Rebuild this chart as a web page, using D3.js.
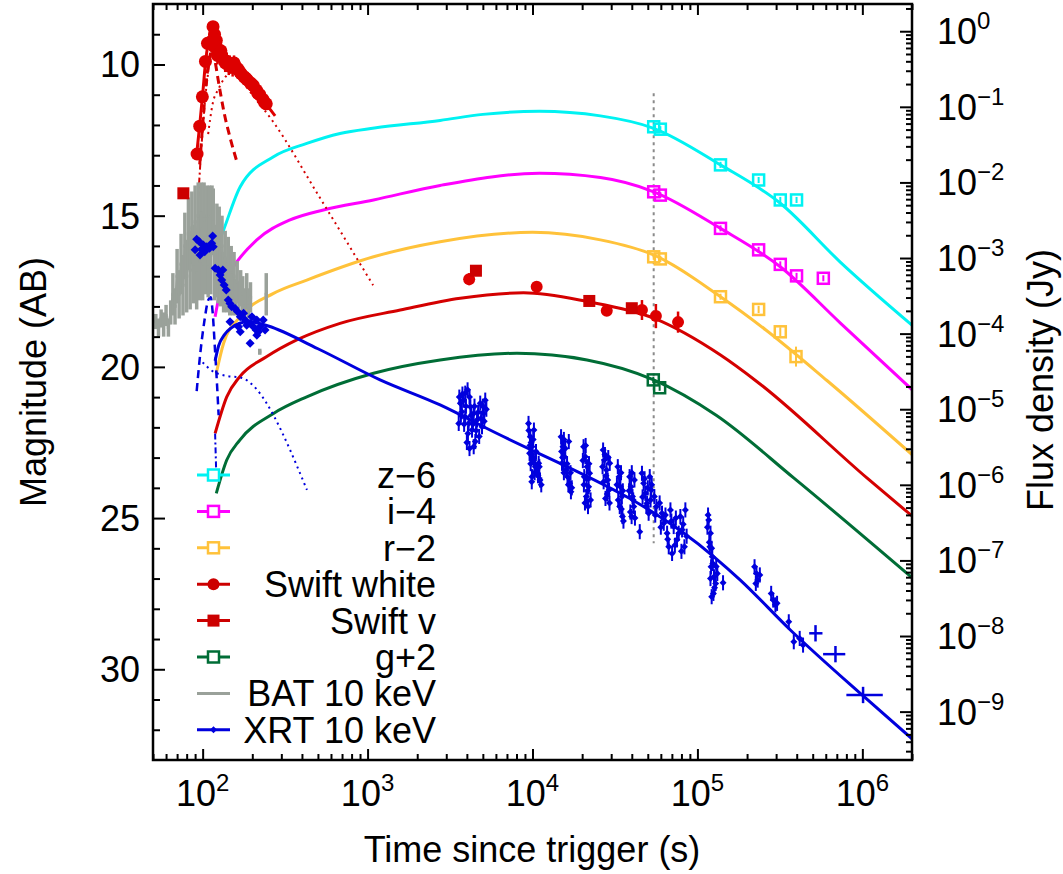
<!DOCTYPE html>
<html><head><meta charset="utf-8">
<script src="https://cdn.jsdelivr.net/npm/d3@7"></script>
<style>
body{margin:0;background:#fff}
svg{display:block}
text{font-family:"Liberation Sans",Arial,Helvetica,sans-serif;fill:#000}
</style>
</head><body>
<svg id="chart" width="1063" height="874"></svg>
<script>
// ---------- model light curves (time [s], AB magnitude) ----------
const cyanT = [121,125,134,169,269,428,681,1100,2754,5000,1.1e4,2.58e4,5.43e4,1.38e5,3.18e5,7.4e5,2e6];
const cyanM = [16.2,15.9,15.47,14.04,13.05,12.61,12.28,12.1,11.85,11.65,11.55,11.70,12.11,13.32,14.59,16.55,18.62];
const magT  = [119,125,134,154,213,339,540,1087,2754,1.1e4,2.58e4,5.43e4,1.38e5,3.18e5,7.36e5,2e6];
const magM  = [18.34,17.75,17.3,16.69,15.80,15.14,14.81,14.48,14.0,13.6,13.74,14.21,15.42,16.69,18.55,20.75];
const oraT  = [121,134,169,269,428,1087,2754,1e4,2.58e4,5.43e4,1.38e5,2.6e5,6.1e5,2e6];
const oraM  = [20.21,19.22,18.34,17.57,17.13,16.36,15.86,15.55,15.80,16.30,17.68,18.78,20.45,22.9];
const redT  = [119,140,168,245,372,681,1578,3648,8830,2.14e4,5.43e4,1.38e5,2.3e5,1.07e6,2e6];
const redM  = [22.2,20.99,20.32,19.66,19.11,18.56,18.12,17.73,17.55,17.84,18.39,19.61,20.49,23.68,24.93];
const grnT  = [121,140,168,269,428,1087,2754,8050,2.14e4,5.43e4,1.3e5,3.85e5,2e6];
const grnM  = [24.18,23.08,22.42,21.54,20.99,20.21,19.77,19.55,19.77,20.43,21.6,23.68,26.97];
const xmodT = [119,125,135,150,170,190,215,250,500,1191,2754,5050,1.26e5,1.82e5,3.66e5,1.02e6,2e6];
const xmodM = [19.8,19.3,18.95,18.7,18.55,18.5,18.55,18.65,19.4,20.43,21.26,21.98,26.28,27.05,28.7,30.9,32.3];

// early-time model components
const wSumT  = [92,96,100,104,108,112,115,118,122,128,134,142,152,165,175,190,210,230,250,275];
const wSumM  = [12.96,12.0,11.0,9.95,9.3,8.95,8.8,9.1,9.45,9.6,9.5,9.8,10.05,10.05,10.15,10.5,10.85,11.15,11.4,11.7];
const wPulseT = [96,100,105,110,114,118,125,135,148,161];
const wPulseM = [13.3,12.0,10.6,9.8,9.5,9.8,10.6,11.6,12.5,13.2];
const wRiseT = [94,98,104,110,113];
const wRiseM = [14.4,12.8,11.0,9.9,9.6];
const wRevT  = [108,115,125,138,150,170,200,268,500,1080];
const wRevM  = [12.3,11.3,10.8,10.4,10.25,10.5,11.0,11.9,14.3,17.3];
const xPulseT = [92,97,103,108,112,115,119,122,125];
const xPulseM = [20.8,19.5,18.4,17.8,17.7,18.2,19.5,20.5,21.6];
const xDecayT = [119,120,121];
const xDecayM = [22.2,22.9,23.6];
const xDotT  = [100,112,140,169,429];
const xDotM  = [19.85,20.1,20.3,20.35,24.07];

// ---------- photometry ----------
const zT = [5.43e4,5.96e4,1.38e5,2.35e5,3.18e5,3.99e5];
const zM = [12.06,12.14,13.32,13.82,14.48,14.48];
const iT = [5.43e4,5.96e4,1.38e5,2.35e5,3.18e5,3.99e5,5.8e5];
const iM = [14.21,14.32,15.42,16.13,16.61,16.99,17.07];
const rT = [5.43e4,5.96e4,1.38e5,2.35e5,3.18e5,3.96e5];
const rM = [16.36,16.43,17.68,18.10,18.84,19.66];
const rE = [0.1,0.1,0.1,0.12,0.15,0.33];
const gT = [5.4e4,5.9e4];
const gM = [20.43,20.69];

const whiteT = [92.5,96,99.6,104,107,112,115.6,118,121,124,127,131,135,140,146,152,158,164,171,178,186,194,203,212,222,232,243,
                117,123,129,137,144,155,168,182,198,216,237,
                4130,1.06e4,2.82e4,4.61e4,5.6e4,7.63e4];
const whiteM = [12.96,12.04,11.07,9.9,9.3,9.25,8.75,9.0,9.2,9.5,9.65,9.75,9.85,9.9,10.0,10.1,10.05,10.15,10.3,10.4,10.5,10.6,10.7,10.85,11.0,11.15,11.3,
                9.4,9.7,9.55,9.95,10.05,9.95,10.25,10.45,10.65,10.95,11.25,
                17.10,17.35,18.14,18.12,18.32,18.52];
const whiteE = [0.1,0.1,0.1,0.1,0.1,0.1,0.1,0.1,0.15,0.2,0.2,0.2,0.25,0.3,0.3,0.3,0.3,0.2,0.15,0.15,0.1,0.1,0.1,0.1,0.1,0.1,0.1,
                0.15,0.3,0.35,0.3,0.3,0.25,0.15,0.1,0.1,0.1,0.1,
                0.2,0.1,0.15,0.33,0.4,0.35];
const vT = [76.4,4540,2.21e4,4.0e4];
const vM = [14.26,16.82,17.82,18.06];

// BAT 10 keV
const batT = [52,54,56,58,60,62,64,66,68,70,72,74,76,78,80,82,84,86,88,90,92,94,96,98,100,102,104,106,108,110,112,114,116,118,120,122,124,126,128,131,134,137,140,143,146,149,152,155,158,162,166,170,175,180,185,190,195,222,243];
const batM = [18.5,18.7,18.4,18.6,18.3,18.7,18.2,17.6,18.0,17.0,17.6,16.6,17.3,16.0,17.0,15.6,16.8,15.4,16.6,15.2,16.9,15.0,16.5,14.9,16.6,15.0,16.4,15.0,16.6,15.0,16.3,15.0,15.2,16.7,16.5,15.6,16.8,15.7,17.0,16.0,17.2,16.4,17.3,16.6,17.5,16.8,17.6,17.0,17.7,17.2,17.8,17.4,17.6,17.9,17.5,17.9,17.7,19.5,17.6];
const batE = [0.25,0.3,0.3,0.4,0.35,0.3,0.4,0.7,0.6,0.9,0.8,1.0,1.0,1.1,1.2,1.2,1.3,1.2,1.3,1.2,1.2,1.1,1.3,1.0,1.2,1.1,1.2,1.0,1.1,1.0,1.3,1.0,1.1,1.1,1.2,1.0,1.1,1.0,1.0,1.0,1.0,0.9,0.9,0.9,0.8,0.8,0.7,0.8,0.6,0.7,0.6,0.6,0.6,0.5,0.6,0.5,0.5,0.1,0.7];

// XRT 10 keV, early steep phase
const xrtEarlyT = [92,95.5,90,101,106,96.4,110,113.5,115,103,116,98.6,119,124.5,127.5,132.5,130.6,135,139,143,146.5,150,157,162.5,169,177,181,185,194,199,203,211,213,223,233,213,194,165,169,146.5,239,218];
const xrtEarlyM = [15.78,15.86,16.13,15.97,16.03,16.30,16.08,15.91,15.67,16.19,16.03,16.11,16.74,16.80,16.96,16.80,17.13,17.29,17.46,17.79,17.90,18.01,18.06,18.17,18.34,18.23,18.45,18.62,18.56,18.34,18.67,18.78,18.45,18.67,18.45,18.95,19.22,18.67,18.84,18.51,18.78,18.84];
// XRT 10 keV, orbit-by-orbit late data
const xrtT = [
  3650,3730,3820,3910,4040,4100,4200,4300,4400,4500,4610,4820,4940,5050,5170,3570,4400,3910,
  3600,3680,3760,3850,3950,4060,4150,4250,4350,4450,4550,4680,4750,4880,5000,5100,5250,4000,4150,
  9460,9700,9930,9600,1.02e4,1.04e4,1.06e4,9930,1.09e4,1.11e4,1.02e4,9800,
  9500,9650,9850,1.0e4,1.01e4,1.03e4,1.05e4,1.08e4,1.1e4,1.13e4,9750,9900,
  1.49e4,1.53e4,1.56e4,1.51e4,1.6e4,1.63e4,1.68e4,1.66e4,1.71e4,
  1.5e4,1.52e4,1.55e4,1.58e4,1.62e4,1.65e4,1.7e4,1.73e4,1.55e4,
  2.04e4,2.09e4,2.14e4,2.06e4,2.19e4,2.12e4,2.22e4,2.17e4,
  2.02e4,2.05e4,2.1e4,2.13e4,2.16e4,2.2e4,2.25e4,2.08e4,
  2.68e4,2.73e4,2.81e4,2.86e4,2.91e4,2.77e4,2.94e4,
  2.66e4,2.7e4,2.75e4,2.84e4,2.88e4,2.93e4,2.79e4,
  3.29e4,3.35e4,3.41e4,3.48e4,3.38e4,3.51e4,
  3.25e4,3.31e4,3.44e4,3.46e4,3.53e4,3.56e4,
  3.88e4,3.96e4,4.04e4,4.11e4,3.99e4,4.15e4,4.47e4,
  3.85e4,3.92e4,4.0e4,4.08e4,4.18e4,
  4.61e4,4.72e4,4.83e4,4.95e4,5.14e4,5.24e4,5.06e4,
  4.65e4,4.78e4,4.9e4,5.0e4,5.2e4,5.28e4,
  5.48e4,5.64e4,6.1e4,6.25e4,6.55e4,6.7e4,6.86e4,7.18e4,7.52e4,7.88e4,8.07e4,8.34e4,8.45e4,7.02e4,
  5.55e4,5.9e4,6.0e4,6.4e4,6.6e4,6.95e4,7.3e4,7.4e4,7.7e4,8.2e4,8.6e4,8.0e4,
  1.17e5,1.2e5,1.19e5,1.23e5,1.21e5,1.26e5,1.29e5,1.25e5,1.32e5,1.43e5,
  1.15e5,1.18e5,1.22e5,1.24e5,1.2e5,1.27e5,1.3e5,1.22e5,1.16e5,
  2.22e5,2.28e5,2.32e5,2.39e5,2.26e5,
  2.8e5,2.88e5,2.97e5,3.04e5,
  3.58e5,3.84e5,4.17e5,4.37e5];
const xrtM = [
  21.2,21.48,21.1,21.65,20.76,21.87,21.32,22.09,21.54,22.47,21.76,21.2,21.98,21.54,21.1,21.87,22.64,20.87,
  21.0,21.6,20.9,21.9,21.3,22.2,21.0,21.6,21.9,21.3,22.1,21.5,22.3,21.7,21.3,21.8,21.4,22.5,22.7,
  21.87,22.31,22.64,22.86,23.08,23.3,23.41,23.63,23.19,23.74,22.09,22.5,
  22.1,22.6,22.9,23.0,22.4,23.5,22.8,23.6,23.3,23.9,23.2,23.8,
  22.31,22.64,22.97,23.19,23.41,23.63,23.85,22.47,24.13,
  22.8,23.0,23.5,22.7,23.2,23.9,23.5,24.0,22.4,
  22.64,22.97,23.3,23.63,23.96,24.29,23.52,24.62,
  23.1,23.9,22.6,23.7,24.1,23.2,24.4,24.5,
  22.75,23.08,23.41,23.74,24.07,24.35,23.19,
  23.3,23.8,22.9,24.2,23.0,24.5,23.6,
  23.3,23.63,23.96,24.29,24.62,24.95,
  23.9,24.4,23.5,24.7,24.1,25.1,
  23.63,23.96,24.29,24.62,24.95,23.74,25.45,
  24.1,24.8,23.5,24.4,25.0,
  23.52,23.85,24.18,24.51,23.63,24.07,24.84,
  24.3,23.7,24.6,24.0,24.4,23.9,
  24.29,24.62,24.84,25.17,25.5,25.95,24.73,25.28,25.72,24.95,25.39,25.95,24.73,26.17,
  24.9,24.5,25.3,24.9,25.7,25.1,25.9,25.0,25.5,25.2,25.6,26.1,
  25.06,25.5,25.95,26.28,26.61,26.94,27.16,27.49,26.83,27.14,
  25.3,25.8,26.0,26.5,27.0,27.3,26.6,27.6,24.9,
  26.61,26.83,27.05,26.88,27.16,
  27.49,27.71,27.87,27.82,
  28.43,29.09,28.98,29.2];
// late XRT bins with wide time ranges
const xrtBinT  = [5.2e5,6.87e5,1.01e6];
const xrtBinLo = [4.76e5,5.78e5,8.0e5];
const xrtBinHi = [5.73e5,7.88e5,1.33e6];
const xrtBinM  = [28.81,29.5,30.85];
const xrtBinE  = [0.27,0.27,0.27];

// reference epoch marker
const epochT = 5.43e4;
const epochRange = [10.95, 25.83];

// axis ticks
const magTicks = [10,15,20,25,30];
const timeDecades = [2,3,4,5,6];
const fluxDecades = [0,-1,-2,-3,-4,-5,-6,-7,-8,-9];

const legendLabels = ["z\u22126","i\u22124","r\u22122","Swift white","Swift v","g+2","BAT 10 keV","XRT 10 keV"];

// ---------- drawing ----------
const L = 153, R = 912, T = 4, B = 760;
const svg = d3.select("#chart");
svg.append("rect").attr("width",1063).attr("height",874).attr("fill","#fff");

const x = d3.scaleLog().domain([50, 2e6]).range([L, R]);
const y = d3.scaleLinear().domain([8, 33]).range([T, B]);
const fy = d3.scaleLog()
  .domain([3631*Math.pow(10,-8/2.5), 3631*Math.pow(10,-33/2.5)])
  .range([T, B]);

const C = {cyan:"#00f2f2", mag:"#ff00ff", ora:"#ffc23a", red:"#d40000", grn:"#006d36", blue:"#0000dd", bat:"#9aa19a", ep:"#8a8a8a"};

const zip = (A,Bv) => A.map((t,i)=>[t,Bv[i]]);
const line = d3.line().x(d=>x(d[0])).y(d=>y(d[1])).curve(d3.curveMonotoneX);
const lineLin = d3.line().x(d=>x(d[0])).y(d=>y(d[1]));

svg.append("clipPath").attr("id","clip").append("rect").attr("x",L).attr("y",T).attr("width",R-L).attr("height",B-T);
const g = svg.append("g").attr("clip-path","url(#clip)");

function curve(T_, M_, color, w, dash, lin){
  g.append("path").attr("d",(lin?lineLin:line)(zip(T_,M_)))
   .attr("fill","none").attr("stroke",color).attr("stroke-width",w)
   .attr("stroke-dasharray",dash||null).attr("stroke-linejoin","round");
}

// epoch marker
g.append("line").attr("x1",x(epochT)).attr("x2",x(epochT))
 .attr("y1",y(epochRange[0])).attr("y2",y(epochRange[1]))
 .attr("stroke",C.ep).attr("stroke-width",2).attr("stroke-dasharray","3,4");

// afterglow models
curve(cyanT,cyanM,C.cyan,3);
curve(magT,magM,C.mag,3);
curve(oraT,oraM,C.ora,3);
curve(redT,redM,C.red,3);
curve(grnT,grnM,C.grn,3);
curve(xmodT,xmodM,C.blue,3);

// early components
curve(wRevT,wRevM,C.red,2,"2,4");
curve(wRiseT,wRiseM,C.red,2,"6,3,2,3",true);
curve(wPulseT,wPulseM,C.red,3,"8,5");
curve(xPulseT,xPulseM,C.blue,2.5,"8,5");
curve(xDecayT,xDecayM,C.blue,2,"6,3,2,3",true);
curve(xDotT,xDotM,C.blue,2,"2,4");

// BAT
const batG = g.append("g").attr("stroke",C.bat);
batG.append("path").attr("d",lineLin(zip(batT.slice(0,57),batM.slice(0,57)))).attr("fill","none").attr("stroke-width",2.5);
batT.forEach((t,i)=>{
  const hw = 1.6;
  batG.append("line").attr("x1",x(t)).attr("x2",x(t)).attr("y1",y(batM[i]-batE[i])).attr("y2",y(batM[i]+batE[i])).attr("stroke-width",3.5);
  batG.append("line").attr("x1",x(t)-hw).attr("x2",x(t)+hw).attr("y1",y(batM[i])).attr("y2",y(batM[i])).attr("stroke-width",3);
});

// Swift white sum curve
curve(wSumT,wSumM,"#e00000",3);

// XRT points
const xg = g.append("g").attr("fill",C.blue).attr("stroke",C.blue);
const diamond = (cx,cy,s)=>`M${cx},${cy-s}L${cx+s},${cy}L${cx},${cy+s}L${cx-s},${cy}Z`;
xrtEarlyT.forEach((t,i)=>{
  const cx = x(t), cy = y(xrtEarlyM[i]);
  xg.append("path").attr("d",diamond(cx,cy,4.5)).attr("stroke","none");
});
xrtT.forEach((t,i)=>{
  const cx = x(t), cy = y(xrtM[i]);
  xg.append("line").attr("x1",cx).attr("x2",cx).attr("y1",y(xrtM[i]-0.25)).attr("y2",y(xrtM[i]+0.25)).attr("stroke-width",2);
  xg.append("path").attr("d",diamond(cx,cy,3.5)).attr("stroke","none");
});
xrtBinT.forEach((t,i)=>{
  xg.append("line").attr("x1",x(xrtBinLo[i])).attr("x2",x(xrtBinHi[i])).attr("y1",y(xrtBinM[i])).attr("y2",y(xrtBinM[i])).attr("stroke-width",2.5);
  xg.append("line").attr("x1",x(t)).attr("x2",x(t)).attr("y1",y(xrtBinM[i]-xrtBinE[i])).attr("y2",y(xrtBinM[i]+xrtBinE[i])).attr("stroke-width",2.5);
});

// Swift white & v
const wg = g.append("g").attr("fill","#dd0000").attr("stroke","#dd0000");
whiteT.forEach((t,i)=>{
  wg.append("line").attr("x1",x(t)).attr("x2",x(t)).attr("y1",y(whiteM[i]-whiteE[i])).attr("y2",y(whiteM[i]+whiteE[i])).attr("stroke-width",2.5);
  wg.append("circle").attr("cx",x(t)).attr("cy",y(whiteM[i])).attr("r",i<38?6.5:6).attr("stroke","none");
});
vT.forEach((t,i)=>{
  wg.append("rect").attr("x",x(t)-6).attr("y",y(vM[i])-6).attr("width",12).attr("height",12).attr("stroke","none").attr("fill","#cc0000");
});

// open-square photometry
function squares(T_,M_,E_,color){
  const sg = g.append("g").attr("stroke",color).attr("fill","none").attr("stroke-width",2.5);
  T_.forEach((t,i)=>{
    const e = E_ ? E_[i] : 0.1;
    sg.append("line").attr("x1",x(t)).attr("x2",x(t)).attr("y1",y(M_[i]-e)).attr("y2",y(M_[i]+e)).attr("stroke-width",2);
    sg.append("rect").attr("x",x(t)-5.5).attr("y",y(M_[i])-5.5).attr("width",11).attr("height",11);
  });
}
squares(zT,zM,null,C.cyan);
squares(iT,iM,null,C.mag);
squares(rT,rM,rE,C.ora);
squares(gT,gM,null,C.grn);

// ---------- axes ----------
const ax = svg.append("g");
const minorT = x.ticks().filter(v=>Math.abs(Math.log10(v)-Math.round(Math.log10(v)))>1e-6);
const majorT = timeDecades.map(d=>Math.pow(10,d));
ax.append("g").attr("transform",`translate(0,${B})`).call(d3.axisBottom(x).tickValues(majorT).tickSize(-11).tickFormat(""));
ax.append("g").attr("transform",`translate(0,${B})`).call(d3.axisBottom(x).tickValues(minorT).tickSize(-6).tickFormat(""));
ax.append("g").attr("transform",`translate(0,${T})`).call(d3.axisTop(x).tickValues(majorT).tickSize(-11).tickFormat(""));
ax.append("g").attr("transform",`translate(0,${T})`).call(d3.axisTop(x).tickValues(minorT).tickSize(-6).tickFormat(""));
const magAll = d3.range(9,33);
ax.append("g").attr("transform",`translate(${L},0)`).call(d3.axisLeft(y).tickValues(magAll.filter(v=>v%5===0)).tickSize(-12).tickFormat(""));
ax.append("g").attr("transform",`translate(${L},0)`).call(d3.axisLeft(y).tickValues(magAll.filter(v=>v%5!==0)).tickSize(-7).tickFormat(""));
const fMajor = fluxDecades.map(d=>Math.pow(10,d));
const fMinor = [];
for (let d=-10; d<=0; d++) for (let k=2;k<=9;k++){ const v=k*Math.pow(10,d); if (v<=fy.domain()[0] && v>=fy.domain()[1]) fMinor.push(v); }
ax.append("g").attr("transform",`translate(${R},0)`).call(d3.axisRight(fy).tickValues(fMajor).tickSize(-12).tickFormat(""));
ax.append("g").attr("transform",`translate(${R},0)`).call(d3.axisRight(fy).tickValues(fMinor).tickSize(-6).tickFormat(""));
ax.selectAll(".domain").remove();
ax.selectAll(".tick line").attr("stroke","#000").attr("stroke-width",2);
svg.append("rect").attr("x",L).attr("y",T).attr("width",R-L).attr("height",B-T)
   .attr("fill","none").attr("stroke","#000").attr("stroke-width",2.5);

// tick labels
const FS = 36, SS = 24;
magTicks.forEach(v=>{
  svg.append("text").attr("x",140).attr("y",y(v)).attr("dy","0.36em").attr("text-anchor","end")
     .attr("font-size",FS).text(v);
});
timeDecades.forEach(d=>{
  const t = svg.append("text").attr("x",x(Math.pow(10,d))).attr("y",806).attr("text-anchor","middle").attr("font-size",FS);
  t.append("tspan").text("10");
  t.append("tspan").attr("dy",-15).attr("font-size",SS).text(d);
});
fluxDecades.forEach(d=>{
  const t = svg.append("text").attr("x",937).attr("y",fy(Math.pow(10,d))+13).attr("text-anchor","start").attr("font-size",FS);
  t.append("tspan").text("10");
  t.append("tspan").attr("dy",-15).attr("font-size",SS).text(d===0?"0":"\u2212"+(-d));
});

// axis titles
svg.append("text").attr("transform","translate(46,382) rotate(-90)").attr("text-anchor","middle").attr("font-size",FS).text("Magnitude (AB)");
svg.append("text").attr("transform","translate(1053,380) rotate(-90)").attr("text-anchor","middle").attr("font-size",FS).text("Flux density (Jy)");
svg.append("text").attr("x",532).attr("y",862).attr("text-anchor","middle").attr("font-size",FS).text("Time since trigger (s)");

// ---------- legend ----------
const lg = svg.append("g");
const legColors = [C.cyan,C.mag,C.ora,"#cc0000","#cc0000",C.grn,C.bat,C.blue];
legendLabels.forEach((lab,i)=>{
  const ly = 475 + i*36.4, c = legColors[i];
  lg.append("line").attr("x1",197).attr("x2",230).attr("y1",ly).attr("y2",ly).attr("stroke",c).attr("stroke-width",3);
  if (i<3 || i===5) lg.append("rect").attr("x",208).attr("y",ly-5.5).attr("width",11).attr("height",11).attr("fill","#fff").attr("stroke",c).attr("stroke-width",2.5);
  if (i===3) lg.append("circle").attr("cx",213.5).attr("cy",ly).attr("r",6).attr("fill",c);
  if (i===4) lg.append("rect").attr("x",207.5).attr("y",ly-6).attr("width",12).attr("height",12).attr("fill",c);
  if (i===7) lg.append("path").attr("d",diamond(213.5,ly,3.5)).attr("fill",c);
  lg.append("text").attr("x",436).attr("y",ly).attr("dy","0.36em").attr("text-anchor","end").attr("font-size",36).text(lab);
});
</script>
</body></html>
